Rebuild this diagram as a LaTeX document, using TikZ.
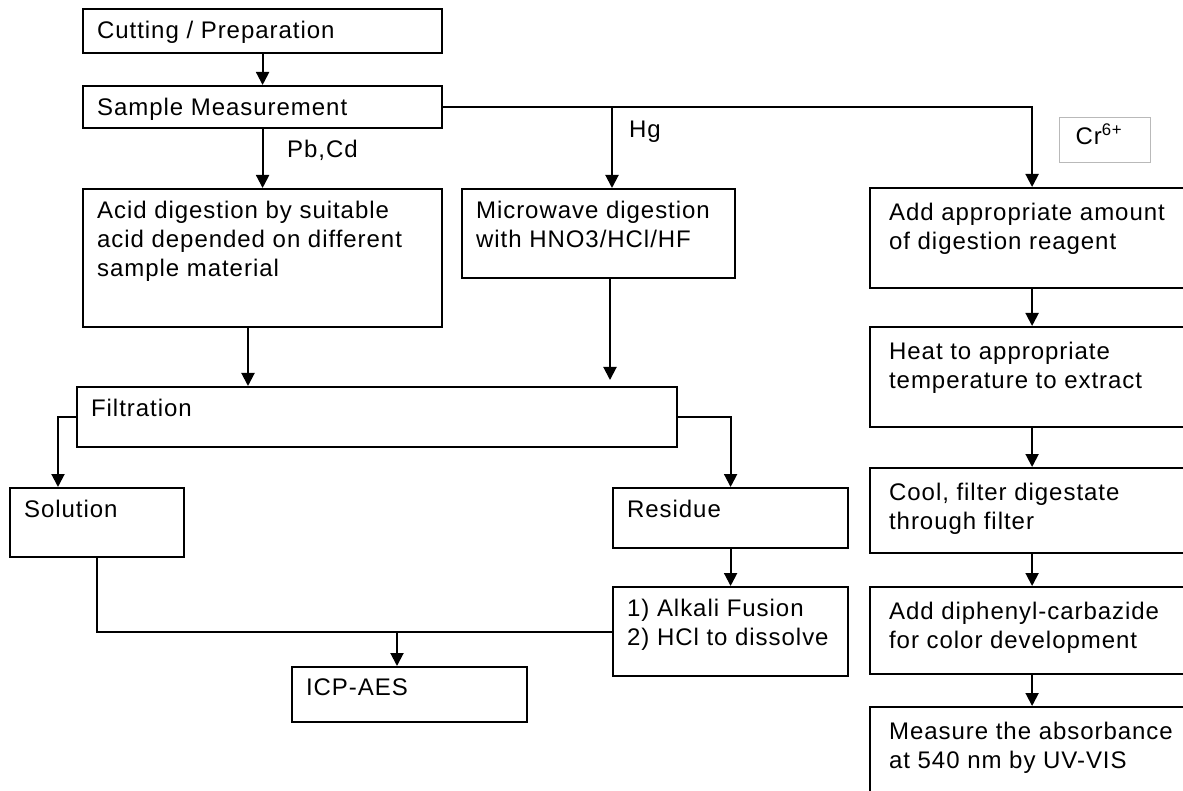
\documentclass[tikz,border=0pt]{standalone}
\usepackage{fontspec}
\setmainfont{Liberation Sans}[LetterSpace=4]
\usetikzlibrary{arrows.meta}

\newlength{\padx}\setlength{\padx}{14pt}
\newlength{\pady}\setlength{\pady}{12pt}
% box of fixed size, text in the top left corner
\newcommand{\boxtext}[3]{\parbox[t][#2][t]{#1}{\raggedright\leftskip=\padx\relax\vspace*{\pady}#3}}

\tikzset{
  stepbox/.style={shape=rectangle, draw=black, anchor=north west, inner sep=0pt, line width=2.2pt},
  rightcol/.style={stepbox, execute at begin node={\setlength{\padx}{19pt}\setlength{\pady}{15pt}}},
  flow/.style={line width=2pt},
  >={Triangle[width=13pt,length=13pt]}
}

\begin{document}
\begin{tikzpicture}[x=1pt, y=-1pt, font=\fontsize{24}{29}\selectfont]
  \clip (0,0) rectangle (1183,791);
  \fill[white] (0,0) rectangle (1183,791);

  % left part
  \node[stepbox] (cut) at (82,8) {\boxtext{359pt}{44pt}{Cutting / Preparation}};
  \node[stepbox] (samp) at (82,85) {\boxtext{359pt}{42pt}{Sample Measurement}};
  \node[stepbox] (acid) at (82,188) {\boxtext{359pt}{138pt}{Acid digestion by suitable\\acid depended on different\\sample material}};
  \node[stepbox] (micro) at (461,188) {\boxtext{273pt}{89pt}{Microwave digestion\\with HNO3/HCl/HF}};
  \node[stepbox] (filt) at (76,386) {\boxtext{600pt}{60pt}{Filtration}};
  \node[stepbox] (sol) at (9,487) {\boxtext{174pt}{69pt}{Solution}};
  \node[stepbox] (res) at (612,487) {\boxtext{235pt}{60pt}{Residue}};
  \node[stepbox] (alk) at (612,586) {\boxtext{235pt}{89pt}{1) Alkali Fusion\\2) HCl to dissolve}};
  \node[stepbox] (icp) at (291,666) {\boxtext{235pt}{55pt}{ICP-AES}};

  % Cr6+ column
  \node[stepbox, draw=gray!55, line width=1pt,
        execute at begin node={\setlength{\padx}{16pt}\setlength{\pady}{6pt}}]
        (cr) at (1059,117) {\boxtext{91pt}{45pt}{Cr\textsuperscript{6+}}};
  \node[rightcol] (add) at (869,187) {\boxtext{324pt}{100pt}{Add appropriate amount\\of digestion reagent}};
  \node[rightcol] (heat) at (869,326) {\boxtext{324pt}{100pt}{Heat to appropriate\\temperature to extract}};
  \node[rightcol] (cool) at (869,467) {\boxtext{324pt}{85pt}{Cool, filter digestate\\through filter}};
  \node[rightcol] (diph) at (869,586) {\boxtext{324pt}{87pt}{Add diphenyl-carbazide\\for color development}};
  \node[rightcol] (meas) at (869,706) {\boxtext{324pt}{100pt}{Measure the absorbance\\at 540 nm by UV-VIS}};

  \node[anchor=west, inner sep=0pt] (pbcd) at (287,150) {Pb,Cd};
  \node[anchor=west, inner sep=0pt] (hg) at (629,132) {Hg};

  \coordinate (hgin) at ([xshift=151pt]micro.north west);
  \coordinate (accin) at ([xshift=172pt]filt.north west);
  \coordinate (mwin) at ([xshift=534pt,yshift=6pt]filt.north west);
  \coordinate (solin) at ([xshift=49pt]sol.north west);
  \coordinate (icpin) at ([xshift=106pt]icp.north west);

  \path[flow,->] (cut) edge (samp);
  \path[flow,->] (samp) edge (acid);
  \draw[flow,->] (samp.east) -| (add.north);
  \draw[flow,->] (samp.east -| hgin) -- (hgin);
  \draw[flow,->] (acid.south -| accin) -- (accin);
  \draw[flow,->] (micro.south -| mwin) -- (mwin);
  \draw[flow,->] (filt.west) -| (solin);
  \draw[flow,->] (filt.east) -| (res.north);
  \path[flow,->] (res) edge (alk);
  \draw[flow] (sol.south) |- (alk.west);
  \draw[flow,->] (icpin |- alk.west) -- (icpin);

  \path[flow,->] (add) edge (heat);
  \path[flow,->] (heat) edge (cool);
  \path[flow,->] (cool) edge (diph);
  \path[flow,->] (diph) edge (meas);
\end{tikzpicture}
\end{document}
